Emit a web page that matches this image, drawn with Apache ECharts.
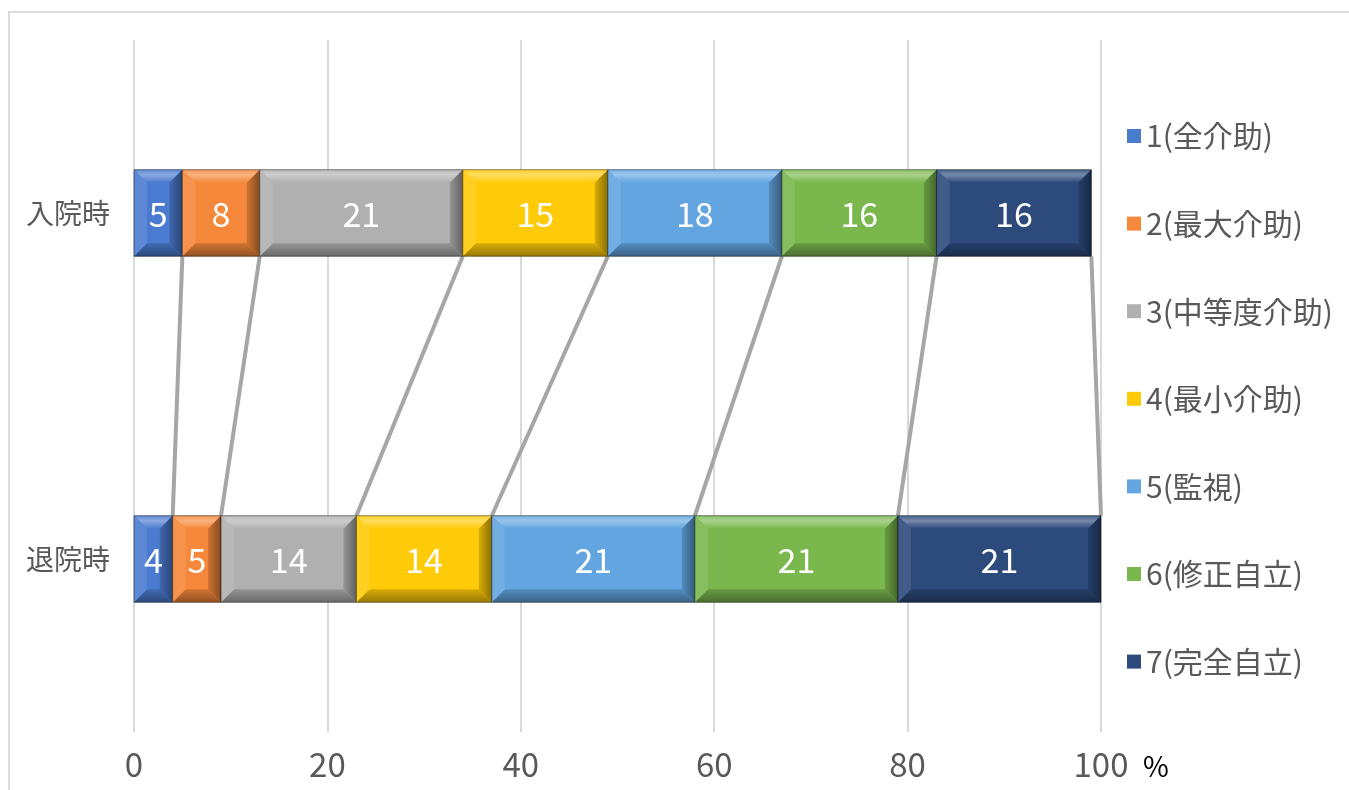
<!DOCTYPE html>
<html>
<head>
<meta charset="utf-8">
<title>FIM</title>
<script src="https://cdn.jsdelivr.net/npm/echarts@6/dist/echarts.min.js"></script>
<style>
  html, body { margin: 0; padding: 0; background: #fff; }
  #chart { width: 1349px; height: 790px; }
</style>
</head>
<body>
<div id="chart"></div>
<script>
// categories (top to bottom) and levels
var categories = ['入院時', '退院時'];
var levels = ['1(全介助)', '2(最大介助)', '3(中等度介助)', '4(最小介助)', '5(監視)', '6(修正自立)', '7(完全自立)'];
var admission = [5, 8, 21, 15, 18, 16, 16];
var discharge = [4, 5, 14, 14, 21, 21, 21];
var colors = ['#4a7bd0', '#f5883a', '#b0b0b0', '#ffca08', '#62a5e0', '#7ab84e', '#2c4a7c'];

var FONT = '"Noto Sans CJK JP", "Noto Sans", sans-serif';
var BAR_RATIO = 0.25;

function mix(hex, target, t) {
    var c = parseInt(hex.slice(1), 16);
    var r = (c >> 16) & 255, g = (c >> 8) & 255, b = c & 255;
    var tr = target === 'white' ? 255 : 0;
    r = Math.round(r + (tr - r) * t);
    g = Math.round(g + (tr - g) * t);
    b = Math.round(b + (tr - b) * t);
    return 'rgb(' + r + ',' + g + ',' + b + ')';
}

function cumulative(arr) {
    var out = [], s = 0;
    arr.forEach(function (v) { out.push([s, s + v]); s += v; });
    return out;
}

var admCum = cumulative(admission);
var disCum = cumulative(discharge);

function bevelBar(base) {
    return function (params, api) {
        var start = api.value(0), end = api.value(1), cat = api.value(2);
        var p0 = api.coord([start, cat]);
        var p1 = api.coord([end, cat]);
        var h = api.size([0, 1])[1] * BAR_RATIO;
        var x0 = p0[0], x1 = p1[0], y0 = p0[1] - h / 2, y1 = p0[1] + h / 2;
        var b = Math.min(13, (x1 - x0) / 3);
        return {
            type: 'group',
            children: [
                { type: 'rect', shape: { x: x0, y: y0, width: x1 - x0, height: h },
                  style: { fill: base } },
                { type: 'polygon', shape: { points: [[x0, y0], [x1, y0], [x1 - b, y0 + b], [x0 + b, y0 + b]] },
                  style: { fill: new echarts.graphic.LinearGradient(0, 0, 0, 1, [
                      { offset: 0, color: mix(base, 'white', 0.15) },
                      { offset: 0.4, color: mix(base, 'white', 0.35) },
                      { offset: 1, color: base }]) } },
                { type: 'polygon', shape: { points: [[x0, y1], [x1, y1], [x1 - b, y1 - b], [x0 + b, y1 - b]] },
                  style: { fill: new echarts.graphic.LinearGradient(0, 0, 0, 1, [
                      { offset: 0, color: mix(base, 'black', 0.15) },
                      { offset: 1, color: mix(base, 'black', 0.4) }]) } },
                { type: 'polygon', shape: { points: [[x0, y0], [x0 + b, y0 + b], [x0 + b, y1 - b], [x0, y1]] },
                  style: { fill: mix(base, 'white', 0.1) } },
                { type: 'polygon', shape: { points: [[x1, y0], [x1 - b, y0 + b], [x1 - b, y1 - b], [x1, y1]] },
                  style: { fill: new echarts.graphic.LinearGradient(0, 0, 1, 0, [
                      { offset: 0, color: mix(base, 'black', 0.15) },
                      { offset: 1, color: mix(base, 'black', 0.45) }]) } },
                { type: 'rect', shape: { x: x0, y: y0, width: x1 - x0, height: h },
                  style: { fill: 'none', stroke: 'rgba(0,0,0,0.45)', lineWidth: 1 } },
                { type: 'text', style: { x: (x0 + x1) / 2, y: p0[1] + 1, text: String(api.value(3)),
                  fill: '#fff', fontSize: 34, fontFamily: FONT, align: 'center', verticalAlign: 'middle' } }
            ]
        };
    };
}

var series = levels.map(function (name, i) {
    return {
        name: name,
        type: 'custom',
        renderItem: bevelBar(colors[i]),
        itemStyle: { color: colors[i] },
        encode: { x: [0, 1], y: 2 },
        data: [
            [admCum[i][0], admCum[i][1], 0, admission[i]],
            [disCum[i][0], disCum[i][1], 1, discharge[i]]
        ],
        z: 3
    };
});

// series lines joining the segment ends of the two bars
series.push({
    name: 'series-lines',
    type: 'custom',
    encode: { x: [0, 1] },
    z: 2,
    silent: true,
    renderItem: function (params, api) {
        var a = api.coord([api.value(0), 0]);
        var d = api.coord([api.value(1), 1]);
        var h = api.size([0, 1])[1] * BAR_RATIO;
        return {
            type: 'line',
            shape: { x1: a[0], y1: a[1] + h / 2, x2: d[0], y2: d[1] - h / 2 },
            style: { stroke: '#a6a6a6', lineWidth: 4 }
        };
    },
    data: admCum.map(function (c, i) { return [c[1], disCum[i][1]]; })
});

var chart = echarts.init(document.getElementById('chart'));
chart.setOption({
    animation: false,
    backgroundColor: '#fff',
    textStyle: { fontFamily: FONT },
    graphic: [{
        type: 'rect',
        shape: { x: 9, y: 12, width: 1400, height: 800 },
        style: { fill: 'none', stroke: '#d9d9d9', lineWidth: 2 },
        silent: true
    }],
    grid: { left: 134, right: 248, top: 40, bottom: 58 },
    legend: {
        orient: 'vertical',
        left: 1122,
        top: 116,
        itemWidth: 14,
        itemHeight: 14,
        itemGap: 57.6,
        icon: 'rect',
        data: levels,
        textStyle: { fontSize: 30, color: '#595959', fontFamily: FONT, lineHeight: 30 }
    },
    xAxis: {
        type: 'value',
        min: 0,
        max: 100,
        interval: 20,
        name: '%',
        nameLocation: 'end',
        nameGap: 42,
        nameTextStyle: { fontSize: 28, color: '#000', verticalAlign: 'top', padding: [20, 0, 0, 0] },
        axisLine: { show: false },
        axisTick: { show: false },
        axisLabel: { fontSize: 33, color: '#595959', margin: 16 },
        splitLine: { lineStyle: { color: '#d9d9d9', width: 2 } }
    },
    yAxis: {
        type: 'category',
        data: categories,
        inverse: true,
        axisLine: { show: false },
        axisTick: { show: false },
        splitLine: { show: false },
        axisLabel: { fontSize: 28, color: '#595959', margin: 24 }
    },
    series: series
});
</script>
</body>
</html>
